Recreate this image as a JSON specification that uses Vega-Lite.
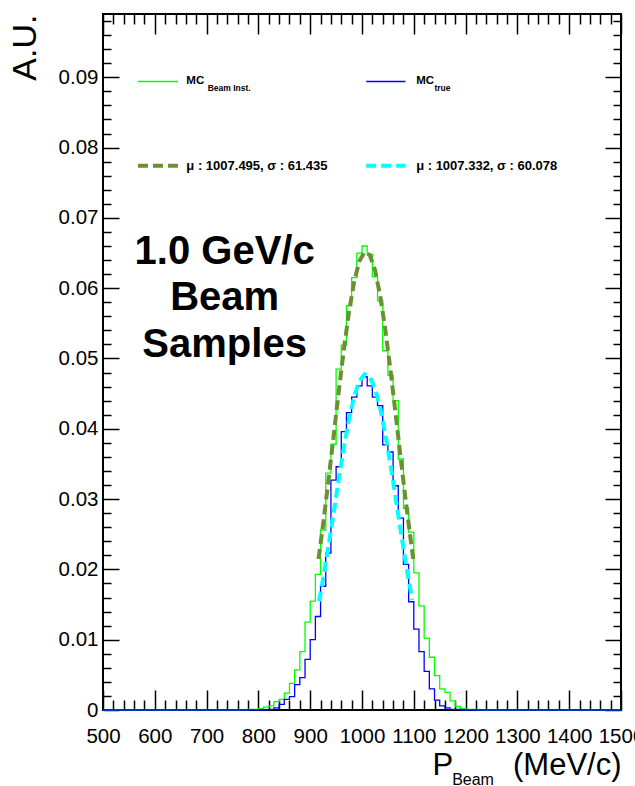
{
  "$schema": "https://vega.github.io/schema/vega-lite/v6.json",
  "width": 518,
  "height": 696,
  "autosize": "none",
  "padding": {"left": 103, "top": 14, "right": 14, "bottom": 76},
  "config": {
    "view": {"stroke": "black", "strokeWidth": 2},
    "font": "Liberation Sans",
    "axis": {"grid": false, "domain": false, "tickColor": "black", "tickWidth": 1.5, "labelColor": "black", "titleColor": "black", "labelOverlap": false, "labelBound": false, "labelFlush": false}
  },
  "datasets": {
    "hist": [
      {"series": "beam", "x": 500, "y": 0},
      {"series": "beam", "x": 780, "y": 0.0001},
      {"series": "beam", "x": 790, "y": 0.0001},
      {"series": "beam", "x": 800, "y": 0.0002},
      {"series": "beam", "x": 810, "y": 0.0004},
      {"series": "beam", "x": 820, "y": 0.0006},
      {"series": "beam", "x": 830, "y": 0.0012},
      {"series": "beam", "x": 840, "y": 0.0015},
      {"series": "beam", "x": 850, "y": 0.0024},
      {"series": "beam", "x": 860, "y": 0.0038},
      {"series": "beam", "x": 870, "y": 0.0057},
      {"series": "beam", "x": 880, "y": 0.0083},
      {"series": "beam", "x": 890, "y": 0.0125},
      {"series": "beam", "x": 900, "y": 0.0155},
      {"series": "beam", "x": 910, "y": 0.0193},
      {"series": "beam", "x": 920, "y": 0.0256},
      {"series": "beam", "x": 930, "y": 0.0337},
      {"series": "beam", "x": 940, "y": 0.0378},
      {"series": "beam", "x": 950, "y": 0.0485},
      {"series": "beam", "x": 960, "y": 0.0519},
      {"series": "beam", "x": 970, "y": 0.0575},
      {"series": "beam", "x": 980, "y": 0.0615},
      {"series": "beam", "x": 990, "y": 0.0650},
      {"series": "beam", "x": 1000, "y": 0.0660},
      {"series": "beam", "x": 1010, "y": 0.0648},
      {"series": "beam", "x": 1020, "y": 0.0616},
      {"series": "beam", "x": 1030, "y": 0.0582},
      {"series": "beam", "x": 1040, "y": 0.0511},
      {"series": "beam", "x": 1050, "y": 0.0476},
      {"series": "beam", "x": 1060, "y": 0.0440},
      {"series": "beam", "x": 1070, "y": 0.0357},
      {"series": "beam", "x": 1080, "y": 0.0287},
      {"series": "beam", "x": 1090, "y": 0.0253},
      {"series": "beam", "x": 1100, "y": 0.0195},
      {"series": "beam", "x": 1110, "y": 0.0148},
      {"series": "beam", "x": 1120, "y": 0.0102},
      {"series": "beam", "x": 1130, "y": 0.0075},
      {"series": "beam", "x": 1140, "y": 0.0049},
      {"series": "beam", "x": 1150, "y": 0.0030},
      {"series": "beam", "x": 1160, "y": 0.0025},
      {"series": "beam", "x": 1170, "y": 0.0013},
      {"series": "beam", "x": 1180, "y": 0.0005},
      {"series": "beam", "x": 1190, "y": 0.0002},
      {"series": "beam", "x": 1200, "y": 0.0001},
      {"series": "beam", "x": 1210, "y": 0.0001},
      {"series": "beam", "x": 1220, "y": 0},
      {"series": "beam", "x": 1500, "y": 0},
      {"series": "true", "x": 500, "y": 0},
      {"series": "true", "x": 820, "y": 0.0001},
      {"series": "true", "x": 830, "y": 0.0003},
      {"series": "true", "x": 840, "y": 0.0008},
      {"series": "true", "x": 850, "y": 0.0015},
      {"series": "true", "x": 860, "y": 0.0019},
      {"series": "true", "x": 870, "y": 0.0036},
      {"series": "true", "x": 880, "y": 0.0046},
      {"series": "true", "x": 890, "y": 0.0072},
      {"series": "true", "x": 900, "y": 0.0100},
      {"series": "true", "x": 910, "y": 0.0133},
      {"series": "true", "x": 920, "y": 0.0176},
      {"series": "true", "x": 930, "y": 0.0223},
      {"series": "true", "x": 940, "y": 0.0327},
      {"series": "true", "x": 950, "y": 0.0346},
      {"series": "true", "x": 960, "y": 0.0396},
      {"series": "true", "x": 970, "y": 0.0423},
      {"series": "true", "x": 980, "y": 0.0445},
      {"series": "true", "x": 990, "y": 0.0461},
      {"series": "true", "x": 1000, "y": 0.0474},
      {"series": "true", "x": 1010, "y": 0.0461},
      {"series": "true", "x": 1020, "y": 0.0445},
      {"series": "true", "x": 1030, "y": 0.0433},
      {"series": "true", "x": 1040, "y": 0.0377},
      {"series": "true", "x": 1050, "y": 0.0367},
      {"series": "true", "x": 1060, "y": 0.0319},
      {"series": "true", "x": 1070, "y": 0.0273},
      {"series": "true", "x": 1080, "y": 0.0207},
      {"series": "true", "x": 1090, "y": 0.0154},
      {"series": "true", "x": 1100, "y": 0.0115},
      {"series": "true", "x": 1110, "y": 0.0083},
      {"series": "true", "x": 1120, "y": 0.0055},
      {"series": "true", "x": 1130, "y": 0.0030},
      {"series": "true", "x": 1140, "y": 0.0014},
      {"series": "true", "x": 1150, "y": 0.0006},
      {"series": "true", "x": 1160, "y": 0.0003},
      {"series": "true", "x": 1170, "y": 0.0001},
      {"series": "true", "x": 1180, "y": 0.0001},
      {"series": "true", "x": 1190, "y": 0},
      {"series": "true", "x": 1500, "y": 0}
    ],
    "fits": [
      {"series": "fbeam", "x": 916, "y": 0.02148},
      {"series": "fbeam", "x": 925, "y": 0.02644},
      {"series": "fbeam", "x": 935, "y": 0.03247},
      {"series": "fbeam", "x": 945, "y": 0.03884},
      {"series": "fbeam", "x": 955, "y": 0.04524},
      {"series": "fbeam", "x": 965, "y": 0.05131},
      {"series": "fbeam", "x": 975, "y": 0.05668},
      {"series": "fbeam", "x": 985, "y": 0.06097},
      {"series": "fbeam", "x": 995, "y": 0.06386},
      {"series": "fbeam", "x": 1005, "y": 0.06515},
      {"series": "fbeam", "x": 1015, "y": 0.06472},
      {"series": "fbeam", "x": 1025, "y": 0.06261},
      {"series": "fbeam", "x": 1035, "y": 0.05898},
      {"series": "fbeam", "x": 1045, "y": 0.05411},
      {"series": "fbeam", "x": 1055, "y": 0.04834},
      {"series": "fbeam", "x": 1065, "y": 0.04205},
      {"series": "fbeam", "x": 1075, "y": 0.03562},
      {"series": "fbeam", "x": 1085, "y": 0.02940},
      {"series": "fbeam", "x": 1095, "y": 0.02362},
      {"series": "fbeam", "x": 1099, "y": 0.02148},
      {"series": "ftrue", "x": 917, "y": 0.01545},
      {"series": "ftrue", "x": 925, "y": 0.01870},
      {"series": "ftrue", "x": 935, "y": 0.02317},
      {"series": "ftrue", "x": 945, "y": 0.02792},
      {"series": "ftrue", "x": 955, "y": 0.03272},
      {"series": "ftrue", "x": 965, "y": 0.03731},
      {"series": "ftrue", "x": 975, "y": 0.04137},
      {"series": "ftrue", "x": 985, "y": 0.04462},
      {"series": "ftrue", "x": 995, "y": 0.04681},
      {"series": "ftrue", "x": 1005, "y": 0.04777},
      {"series": "ftrue", "x": 1015, "y": 0.04741},
      {"series": "ftrue", "x": 1025, "y": 0.04577},
      {"series": "ftrue", "x": 1035, "y": 0.04298},
      {"series": "ftrue", "x": 1045, "y": 0.03926},
      {"series": "ftrue", "x": 1055, "y": 0.03488},
      {"series": "ftrue", "x": 1065, "y": 0.03014},
      {"series": "ftrue", "x": 1075, "y": 0.02533},
      {"series": "ftrue", "x": 1085, "y": 0.02071},
      {"series": "ftrue", "x": 1095, "y": 0.01647},
      {"series": "ftrue", "x": 1097, "y": 0.01568}
    ],
    "legendSolid": [
      {"series": "beam", "x": 567.5, "x2": 644.7, "y": 0.0894},
      {"series": "true", "x": 1008.1, "x2": 1083.9, "y": 0.0894}
    ],
    "legendDashed": [
      {"series": "fbeam", "x": 567.5, "x2": 644.7, "y": 0.07743},
      {"series": "ftrue", "x": 1008.1, "x2": 1083.9, "y": 0.07743}
    ],
    "legendMC": [
      {"t": "MC", "x": 660.9, "y": 0.08898},
      {"t": "MC", "x": 1104.5, "y": 0.08898}
    ],
    "legendFit": [
      {"t": "μ : 1007.495, σ : 61.435", "x": 660.9, "y": 0.07686},
      {"t": "μ : 1007.332, σ : 60.078", "x": 1104.5, "y": 0.07686}
    ],
    "legendSub": [
      {"t": "Beam Inst.", "x": 702, "y": 0.08803},
      {"t": "true", "x": 1139.9, "y": 0.08803}
    ],
    "bigText": [
      {"t": "1.0 GeV/c", "x": 734.8, "y": 0.0635},
      {"t": "Beam", "x": 734.8, "y": 0.0569},
      {"t": "Samples", "x": 734.8, "y": 0.0502}
    ],
    "xTitle": [
      {"t": "P", "x": 1136, "y": -0.00918},
      {"t": "(MeV/c)", "x": 1501, "y": -0.00918}
    ],
    "xTitleSub": [
      {"t": "Beam", "x": 1174, "y": -0.0107}
    ]
  },
  "resolve": {"axis": {"x": "independent", "y": "independent"}},
  "layer": [
    {
      "data": {"name": "hist"},
      "mark": {"type": "line", "interpolate": "step-after", "strokeWidth": 1.3},
      "encoding": {
        "x": {"field": "x", "type": "quantitative",
          "scale": {"domain": [500, 1500], "nice": false, "zero": false},
          "axis": {"orient": "bottom", "title": null,
            "values": [500,520,540,560,580,600,620,640,660,680,700,720,740,760,780,800,820,840,860,880,900,920,940,960,980,1000,1020,1040,1060,1080,1100,1120,1140,1160,1180,1200,1220,1240,1260,1280,1300,1320,1340,1360,1380,1400,1420,1440,1460,1480,1500],
            "tickSize": {"condition": {"test": "datum.value % 100 === 0", "value": -20}, "value": -10},
            "labelExpr": "datum.value % 100 === 0 ? datum.label : ''",
            "format": "d",
            "labelFontSize": 20.5, "labelPadding": 36}},
        "y": {"field": "y", "type": "quantitative",
          "scale": {"domain": [0, 0.099], "nice": false, "zero": true},
          "axis": {"orient": "left", "title": "A.U.", "titleFontSize": 34, "titleFontWeight": "normal", "titleAnchor": "end", "titlePadding": 16,
            "values": [0,0.002,0.004,0.006,0.008,0.01,0.012,0.014,0.016,0.018,0.02,0.022,0.024,0.026,0.028,0.03,0.032,0.034,0.036,0.038,0.04,0.042,0.044,0.046,0.048,0.05,0.052,0.054,0.056,0.058,0.06,0.062,0.064,0.066,0.068,0.07,0.072,0.074,0.076,0.078,0.08,0.082,0.084,0.086,0.088,0.09,0.092,0.094,0.096,0.098],
            "tickSize": {"condition": {"test": "abs(datum.value*100 - round(datum.value*100)) < 0.000001", "value": -16}, "value": -8},
            "labelExpr": "datum.value == 0 ? '0' : (abs(datum.value*100 - round(datum.value*100)) < 0.000001 ? format(datum.value, '.2f') : '')",
            "labelFontSize": 20.5, "labelPadding": 21}},
        "color": {"field": "series", "type": "nominal", "legend": null,
          "scale": {"domain": ["beam", "true", "fbeam", "ftrue"], "range": ["#00ff00", "#0000ff", "#6b9030", "#00ffff"]}}
      }
    },
    {
      "data": {"name": "hist"},
      "mark": {"type": "point", "opacity": 0},
      "encoding": {
        "x": {"field": "x", "type": "quantitative",
          "axis": {"orient": "top", "title": null, "labels": false,
            "values": [500,520,540,560,580,600,620,640,660,680,700,720,740,760,780,800,820,840,860,880,900,920,940,960,980,1000,1020,1040,1060,1080,1100,1120,1140,1160,1180,1200,1220,1240,1260,1280,1300,1320,1340,1360,1380,1400,1420,1440,1460,1480,1500],
            "tickSize": {"condition": {"test": "datum.value % 100 === 0", "value": -20}, "value": -10}}},
        "y": {"field": "y", "type": "quantitative",
          "axis": {"orient": "right", "title": null, "labels": false,
            "values": [0,0.002,0.004,0.006,0.008,0.01,0.012,0.014,0.016,0.018,0.02,0.022,0.024,0.026,0.028,0.03,0.032,0.034,0.036,0.038,0.04,0.042,0.044,0.046,0.048,0.05,0.052,0.054,0.056,0.058,0.06,0.062,0.064,0.066,0.068,0.07,0.072,0.074,0.076,0.078,0.08,0.082,0.084,0.086,0.088,0.09,0.092,0.094,0.096,0.098],
            "tickSize": {"condition": {"test": "abs(datum.value*100 - round(datum.value*100)) < 0.000001", "value": -16}, "value": -8}}}
      }
    },
    {
      "data": {"name": "fits"},
      "mark": {"type": "line", "strokeWidth": 4, "strokeDash": [10, 5]},
      "encoding": {
        "x": {"field": "x", "type": "quantitative", "axis": null},
        "y": {"field": "y", "type": "quantitative", "axis": null},
        "color": {"field": "series", "type": "nominal", "legend": null}
      }
    },
    {
      "data": {"name": "legendSolid"},
      "mark": {"type": "rule", "strokeWidth": 1.3},
      "encoding": {
        "x": {"field": "x", "type": "quantitative", "axis": null},
        "x2": {"field": "x2"},
        "y": {"field": "y", "type": "quantitative", "axis": null},
        "color": {"field": "series", "type": "nominal", "legend": null}
      }
    },
    {
      "data": {"name": "legendDashed"},
      "mark": {"type": "rule", "strokeWidth": 4, "strokeDash": [10, 5]},
      "encoding": {
        "x": {"field": "x", "type": "quantitative", "axis": null},
        "x2": {"field": "x2"},
        "y": {"field": "y", "type": "quantitative", "axis": null},
        "color": {"field": "series", "type": "nominal", "legend": null}
      }
    },
    {
      "data": {"name": "legendMC"},
      "mark": {"type": "text", "align": "left", "baseline": "alphabetic", "fontSize": 11.5, "fontWeight": "bold", "color": "black"},
      "encoding": {
        "x": {"field": "x", "type": "quantitative", "axis": null},
        "y": {"field": "y", "type": "quantitative", "axis": null},
        "text": {"field": "t"}
      }
    },
    {
      "data": {"name": "legendFit"},
      "mark": {"type": "text", "align": "left", "baseline": "alphabetic", "fontSize": 13, "fontWeight": "bold", "color": "black"},
      "encoding": {
        "x": {"field": "x", "type": "quantitative", "axis": null},
        "y": {"field": "y", "type": "quantitative", "axis": null},
        "text": {"field": "t"}
      }
    },
    {
      "data": {"name": "legendSub"},
      "mark": {"type": "text", "align": "left", "baseline": "alphabetic", "fontSize": 8.5, "fontWeight": "bold", "color": "black"},
      "encoding": {
        "x": {"field": "x", "type": "quantitative", "axis": null},
        "y": {"field": "y", "type": "quantitative", "axis": null},
        "text": {"field": "t"}
      }
    },
    {
      "data": {"name": "bigText"},
      "mark": {"type": "text", "align": "center", "baseline": "alphabetic", "fontSize": 40, "fontWeight": "bold", "color": "black"},
      "encoding": {
        "x": {"field": "x", "type": "quantitative", "axis": null},
        "y": {"field": "y", "type": "quantitative", "axis": null},
        "text": {"field": "t"}
      }
    },
    {
      "data": {"name": "xTitle"},
      "mark": {"type": "text", "align": {"expr": "datum.t == 'P' ? 'left' : 'right'"}, "baseline": "alphabetic", "fontSize": 31, "color": "black"},
      "encoding": {
        "x": {"field": "x", "type": "quantitative", "axis": null},
        "y": {"field": "y", "type": "quantitative", "axis": null},
        "text": {"field": "t"}
      }
    },
    {
      "data": {"name": "xTitleSub"},
      "mark": {"type": "text", "align": "left", "baseline": "alphabetic", "fontSize": 16, "color": "black"},
      "encoding": {
        "x": {"field": "x", "type": "quantitative", "axis": null},
        "y": {"field": "y", "type": "quantitative", "axis": null},
        "text": {"field": "t"}
      }
    }
  ]
}
